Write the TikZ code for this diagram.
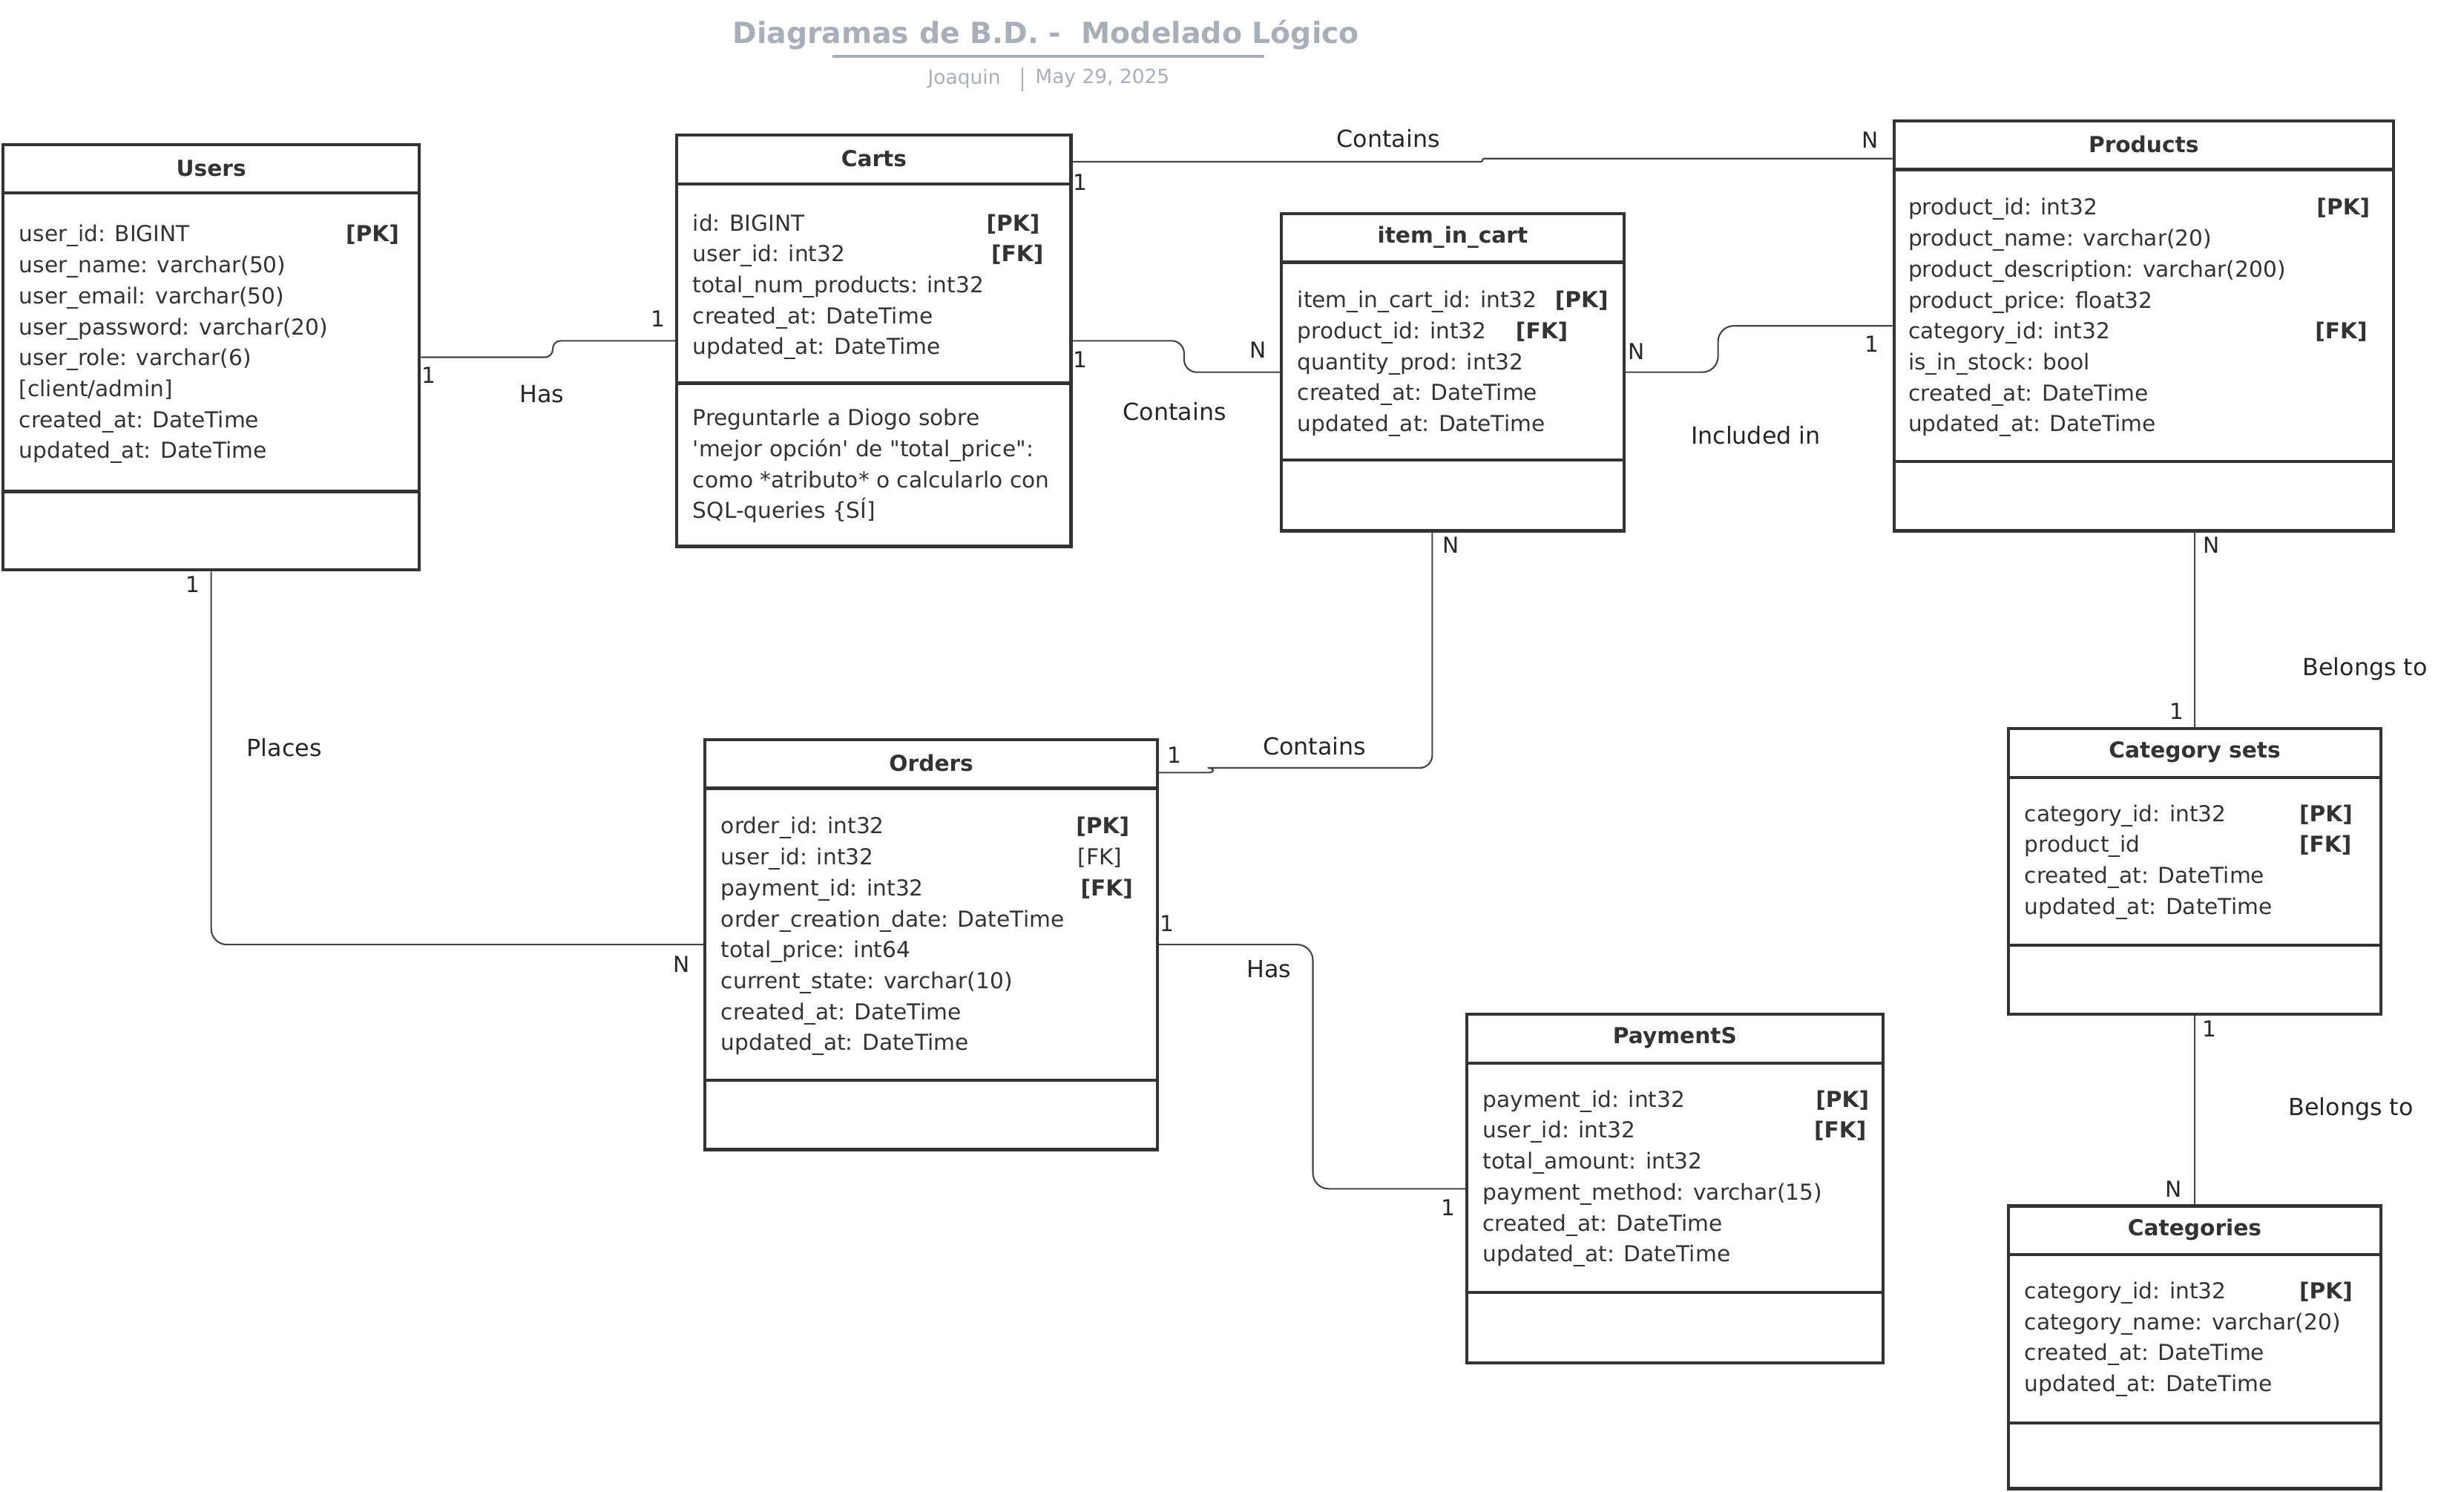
\documentclass[tikz,border=0pt]{standalone}
\usepackage{fontspec}
\setmainfont{DejaVu Sans}
\usetikzlibrary{positioning, calc}
\definecolor{ink}{HTML}{333333}
\definecolor{linkgray}{HTML}{444444}
\definecolor{titlegray}{HTML}{A9AFB9}
\newcommand{\attrkey}[3]{\makebox[#1][l]{#2}#3}

\begin{document}
\begin{tikzpicture}[x=1pt, y=-1pt]
            \tikzstyle{table}=[draw=ink, line width=2pt, rectangle, inner sep=0pt, anchor=north west]
            \tikzstyle{tabletitle}=[font=\fontsize{14}{17}\selectfont\bfseries, text=ink, inner sep=0pt]
            \tikzstyle{attr}=[font=\fontsize{14}{17}\selectfont, text=ink, anchor=base west, inner sep=0pt]
            \tikzstyle{link}=[draw=linkgray, line width=1pt, rounded corners=8pt]
            \tikzstyle{card}=[font=\fontsize{14}{17}\selectfont, text=black!85, inner sep=0pt]
            \tikzstyle{rel}=[font=\fontsize{15}{18}\selectfont, text=black!85, inner sep=0pt]
            \tikzstyle{meta}=[font=\fontsize{12.5}{15}\selectfont, text=titlegray, inner sep=0pt]

            \useasboundingbox (0,0) rectangle (1569,950);

            % heading
            \node (title) [font=\fontsize{18.6}{22}\selectfont\bfseries, text=titlegray, inner sep=0pt] at (666,22) {Diagramas de B.D. -\ \ Modelado Lógico};
            \draw [titlegray, line width=2pt] (530,36) -- (805,36);
            \node (author) [meta] at (614,50) {Joaquin};
            \node (date) [meta] at (702,50) {May 29, 2025};
            \draw [titlegray, line width=0.8pt] (651,43) -- (651,58);

            % tables
            \node (users) [table, minimum width=265pt, minimum height=271pt] at (1,91) {};
            \node (carts) [table, minimum width=251pt, minimum height=262pt] at (430,85) {};
            \node (item) [table, minimum width=218pt, minimum height=202pt] at (815,135) {};
            \node (products) [table, minimum width=318pt, minimum height=261pt] at (1205,76) {};
            \node (catsets) [table, minimum width=237pt, minimum height=182pt] at (1278,463) {};
            \node (categories) [table, minimum width=237pt, minimum height=180pt] at (1278,767) {};
            \node (orders) [table, minimum width=288pt, minimum height=261pt] at (448,470) {};
            \node (payments) [table, minimum width=265pt, minimum height=222pt] at (933,645) {};

            \foreach \t/\f/\n in {users/51/Users, carts/105/Carts, item/46/item\_in\_cart,
                products/45/Products, catsets/45/Category sets, categories/43/Categories,
                orders/45/Orders, payments/46/PaymentS} {
                \draw [ink, line width=2pt] ([yshift=-32pt]\t.north west) -- ([yshift=-32pt]\t.north east);
                \draw [ink, line width=2pt] ([yshift=\f pt]\t.south west) -- ([yshift=\f pt]\t.south east);
                \node (\t-title) [tabletitle] at ([yshift=-16pt]\t.north) {\n};
            }

            % attributes
            \foreach \a [count=\i] in {\attrkey{208pt}{user\_id: BIGINT}{\textbf{[PK]}}, user\_name: varchar(50),
                user\_email: varchar(50), user\_password: varchar(20), user\_role: varchar(6),
                {[client/admin]}, created\_at: DateTime, updated\_at: DateTime}
                \node (users-\i) [attr] at ([xshift=11pt, yshift=-43.3pt-\i*19.7pt]users.north west) {\a};

            \foreach \a [count=\i] in {\attrkey{187pt}{id: BIGINT}{\textbf{[PK]}}, \attrkey{190pt}{user\_id: int32}{\textbf{[FK]}},
                total\_num\_products: int32, created\_at: DateTime, updated\_at: DateTime}
                \node (carts-\i) [attr] at ([xshift=11pt, yshift=-42.3pt-\i*19.7pt]carts.north west) {\a};

            \foreach \a [count=\i] in {Preguntarle a Diogo sobre,
                \textquotesingle mejor opción\textquotesingle\ de \textquotedbl total\_price\textquotedbl:,
                como *atributo* o calcularlo con, SQL-queries \{SÍ]}
                \node (note-\i) [attr] at ([xshift=11pt, yshift=-166.3pt-\i*19.7pt]carts.north west) {\a};

            \foreach \a [count=\i] in {\attrkey{164pt}{item\_in\_cart\_id: int32}{\textbf{[PK]}},
                \attrkey{139pt}{product\_id: int32}{\textbf{[FK]}},
                quantity\_prod: int32, created\_at: DateTime, updated\_at: DateTime}
                \node (item-\i) [attr] at ([xshift=11pt, yshift=-41.3pt-\i*19.7pt]item.north west) {\a};

            \foreach \a [count=\i] in {\attrkey{260pt}{product\_id: int32}{\textbf{[PK]}}, product\_name: varchar(20),
                product\_description: varchar(200), product\_price: float32,
                \attrkey{259pt}{category\_id: int32}{\textbf{[FK]}}, is\_in\_stock: bool,
                created\_at: DateTime, updated\_at: DateTime}
                \node (products-\i) [attr] at ([xshift=10pt, yshift=-41.3pt-\i*19.7pt]products.north west) {\a};

            \foreach \a [count=\i] in {\attrkey{175pt}{category\_id: int32}{\textbf{[PK]}},
                \attrkey{175pt}{product\_id}{\textbf{[FK]}}, created\_at: DateTime, updated\_at: DateTime}
                \node (catsets-\i) [attr] at ([xshift=11pt, yshift=-40.3pt-\i*19.7pt]catsets.north west) {\a};

            \foreach \a [count=\i] in {\attrkey{175pt}{category\_id: int32}{\textbf{[PK]}},
                category\_name: varchar(20), created\_at: DateTime, updated\_at: DateTime}
                \node (categories-\i) [attr] at ([xshift=11pt, yshift=-40.3pt-\i*19.7pt]categories.north west) {\a};

            \foreach \a [count=\i] in {\attrkey{226pt}{order\_id: int32}{\textbf{[PK]}},
                \attrkey{227pt}{user\_id: int32}{[FK]}, \attrkey{229pt}{payment\_id: int32}{\textbf{[FK]}},
                order\_creation\_date: DateTime, total\_price: int64, current\_state: varchar(10),
                created\_at: DateTime, updated\_at: DateTime}
                \node (orders-\i) [attr] at ([xshift=11pt, yshift=-41.3pt-\i*19.7pt]orders.north west) {\a};

            \foreach \a [count=\i] in {\attrkey{212pt}{payment\_id: int32}{\textbf{[PK]}},
                \attrkey{211pt}{user\_id: int32}{\textbf{[FK]}}, total\_amount: int32,
                payment\_method: varchar(15), created\_at: DateTime, updated\_at: DateTime}
                \node (payments-\i) [attr] at ([xshift=11pt, yshift=-40.3pt-\i*19.7pt]payments.north west) {\a};

            % relations
            \draw [link, rounded corners=5pt] (users.east) -- ++(84,0) |- (carts.west);
            \draw [link] (carts.east) -- ++(71,0) |- (item.west);
            \draw [link, rounded corners=1pt] ([yshift=-18pt]carts.north east) -- ++(261,0) |- ([yshift=-25pt]products.north west);
            \draw [link, rounded corners=10pt] (item.east) -- ++(59,0) |- (products.west);
            \coordinate (ordin) at ([yshift=-22pt]orders.north east);
            \draw [link] ([xshift=-13pt]item.south) |- (777,489) [sharp corners] to[out=180, in=0] (770,492) -- (ordin);
            \draw [link, rounded corners=10pt] (users.south) |- (orders.west);
            \draw [link, rounded corners=10pt] (orders.east) -- ++(98,0) |- (payments.west);
            \draw [link] (catsets.north |- products.south) -- (catsets.north);
            \draw [link] (catsets.south) -- (categories.north);

            % cardinalities and names
            \node (has1-a) [card] at (273,239) {1};
            \node (has1-b) [card] at (419,203) {1};
            \node (has1) [rel] at (345,251) {Has};
            \node (cont1-a) [card] at (688,229) {1};
            \node (cont1-b) [card] at (801,223) {N};
            \node (cont1) [rel] at (748,262) {Contains};
            \node (cont2-a) [card] at (688,116) {1};
            \node (cont2-b) [card] at (1191,89) {N};
            \node (cont2) [rel] at (884,88) {Contains};
            \node (incl-a) [card] at (1042,224) {N};
            \node (incl-b) [card] at (1192,219) {1};
            \node (incl) [rel] at (1118,277) {Included in};
            \node (cont3-a) [card] at (924,347) {N};
            \node (cont3-b) [card] at (748,481) {1};
            \node (cont3) [rel] at (837,475) {Contains};
            \node (places-a) [card] at (123,372) {1};
            \node (places-b) [card] at (434,614) {N};
            \node (places) [rel] at (181,476) {Places};
            \node (has2-a) [card] at (743,588) {1};
            \node (has2-b) [card] at (922,769) {1};
            \node (has2) [rel] at (808,617) {Has};
            \node (belong1-a) [card] at (1408,347) {N};
            \node (belong1-b) [card] at (1386,453) {1};
            \node (belong1) [rel] at (1506,426) {Belongs to};
            \node (belong2-a) [card] at (1407,655) {1};
            \node (belong2-b) [card] at (1384,757) {N};
            \node (belong2) [rel] at (1497,706) {Belongs to};
\end{tikzpicture}
\end{document}
